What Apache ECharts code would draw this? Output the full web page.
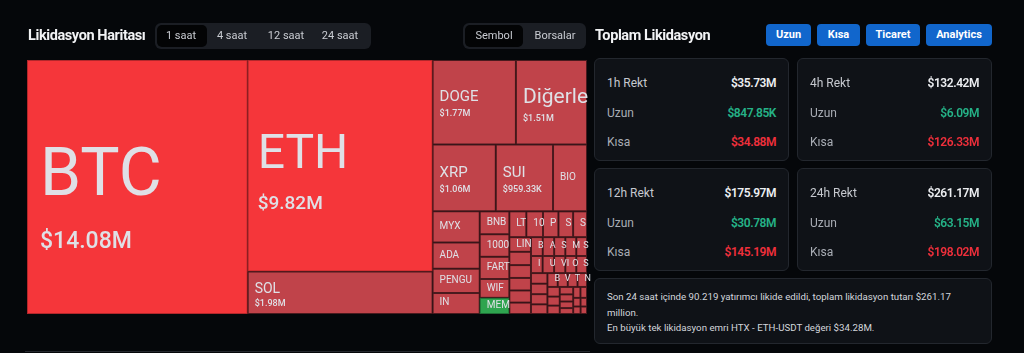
<!DOCTYPE html>
<html>
<head>
<meta charset="utf-8">
<script src="https://cdn.jsdelivr.net/npm/echarts@6/dist/echarts.min.js"></script>
<style>
  body { margin: 0; width: 1024px; height: 353px; overflow: hidden; background: #05070a; font-family: Roboto, "Noto Sans", sans-serif; color: #e6e8eb; position: relative; }
  .abs { position: absolute; }
  .title { font-size: 14.5px; font-weight: 700; color: #f2f3f5; letter-spacing: -0.4px; top: 27px; line-height: 18px; }
  .seg { top: 23px; height: 26px; background: #1b1e24; border-radius: 6px; }
  .seg .pill { position: absolute; top: 2px; height: 22px; background: #030405; border-radius: 5px; }
  .seg span { position: absolute; top: 0; line-height: 26px; font-size: 11px; color: #c9ccd2; transform: translateX(-50%); white-space: nowrap; }
  .btn { top: 24px; height: 22px; line-height: 22px; background: #1166cc; border-radius: 4px; color: #fff; font-size: 11px; font-weight: 700; text-align: center; }
  .card { background: #0f1217; border: 1px solid #23272e; border-radius: 6px; box-sizing: border-box; }
  .row { position: absolute; left: 12px; right: 12px; height: 16px; line-height: 16px; font-size: 12px; }
  .row .k { position: absolute; left: 0; color: #a9adb5; }
  .row .v { position: absolute; right: 0; font-weight: 600; font-size: 12px; letter-spacing: -0.45px; }
  .note { font-size: 9.7px; line-height: 15.5px; color: #d3d6dc; padding: 10px 40px 10px 12px; }
  #chart { position: absolute; left: 0; top: 0; width: 600px; height: 353px; }
</style>
</head>
<body>
<div id="chart"></div>

<div class="abs title" style="left:28px">Likidasyon Haritası</div>
<div class="abs seg" id="periodTabs" style="left:155px;width:216px"><div class="pill" style="left:2px;width:50px"></div></div>
<div class="abs seg" id="groupTabs" style="left:463px;width:123px"><div class="pill" style="left:2px;width:58px"></div></div>
<div class="abs title" style="left:595px">Toplam Likidasyon</div>
<div id="buttons"></div>
<div id="cards"></div>
<div class="abs card note" style="left:594px;top:278px;width:398px;height:66px">
  Son 24 saat içinde 90.219 yatırımcı likide edildi, toplam likidasyon tutarı $261.17 million.<br>
  En büyük tek likidasyon emri HTX - ETH-USDT değeri $34.28M.
</div>
<div class="abs" style="left:25px;top:351px;width:565px;height:1px;background:#24272d"></div>

<script>
// treemap verisi (milyon $)
const coins = ['BTC', 'ETH', 'SOL', 'DOGE', 'Diğerleri', 'XRP', 'SUI', 'BIO', 'MYX', 'ADA', 'PENGU', 'IN',
  'BNB', '1000FLOKI', 'FARTCOIN', 'WIF', 'MEME', 'LTC', '1000BONK', 'PUMP', 'SPK', 'SOON',
  'LINK', 'PROVE', 'ENA', 'STBL', 'AVAX', 'LDO', 'BCH', 'AAVE', 'SPX', 'MANA', 'SHIB', 'INJ',
  'USELESS', 'VIRTUAL', 'ORDI', 'SAND', 'APT', 'IP', 'ICP', 'ONDO', 'BOME', 'VINE', 'TAO', 'NEAR',
  'XAI', 'WAL', 'TRX', 'CRV', 'OP', 'ARB', 'WLD', 'FIL', 'TIA', 'HYPE', 'ZORA', 'ETC', 'XLM']
const liqM = [14.08, 9.82, 1.98, 1.77, 1.51, 1.06, 0.95933, 0.57, 0.37, 0.31, 0.285, 0.25,
  0.17, 0.168, 0.165, 0.14, 0.12, 0.11, 0.108, 0.1, 0.095, 0.09,
  0.08, 0.072, 0.07, 0.068, 0.066, 0.062, 0.056, 0.054, 0.053, 0.052, 0.051, 0.05,
  0.049, 0.048, 0.047, 0.046, 0.044, 0.043, 0.042, 0.04, 0.036, 0.035, 0.034, 0.033,
  0.03, 0.028, 0.026, 0.025, 0.024, 0.022, 0.02, 0.02, 0.018, 0.016, 0.014, 0.014, 0.012]
const hotCoins = ['BTC', 'ETH']
const greenCoins = ['MEME']

// sağ panel verisi
const periods = ['1h', '4h', '12h', '24h']
const totalRekt = [35.73, 132.42, 175.97, 261.17]
const longRekt = [0.84785, 6.09, 30.78, 63.15]
const shortRekt = [34.88, 126.33, 145.19, 198.02]
const periodTabs = ['1 saat', '4 saat', '12 saat', '24 saat']
const groupTabs = ['Sembol', 'Borsalar']
const buttons = ['Uzun', 'Kısa', 'Ticaret', 'Analytics']

function fmtUsd(m) {
  return m >= 1 ? '$' + m.toFixed(2) + 'M' : '$' + (m * 1000).toFixed(2) + 'K'
}

// etiket boyutları
const labelSizes = {
  BTC: { n: 66, v: 23, gap: 26, d: 12 },
  ETH: { n: 48, v: 19, gap: 21, d: 9 },
  'Diğerleri': { n: 21, v: 9, gap: 7, d: 6 },
  SOL: { n: 14, v: 9, gap: 3, d: 6 },
  DOGE: { n: 15, v: 9, gap: 6, d: 6 },
  XRP: { n: 15, v: 9, gap: 6, d: 6 },
  SUI: { n: 15, v: 9, gap: 6, d: 6 }
}
function sizeOf(name, v) {
  if (labelSizes[name]) return labelSizes[name]
  return { n: v < 0.06 ? 9 : 10, d: 6 }
}
const lineH = s => Math.round(s * 1.15)

const items = coins.map((name, i) => {
  const hot = hotCoins.includes(name), green = greenCoins.includes(name)
  const s = sizeOf(name, liqM[i])
  return {
    name,
    value: liqM[i],
    itemStyle: {
      color: hot ? '#f5363a' : green ? '#2ea44f' : '#c0434a',
      borderColor: hot ? '#b3272b' : green ? '#1f6e36' : '#4a1a1e'
    },
    label: {
      distance: s.d,
      padding: 0,
      rich: {
        n: { fontSize: s.n, lineHeight: lineH(s.n), color: '#dfe0e6', fontFamily: 'Roboto' },
        v: { fontSize: s.v || 9, lineHeight: lineH(s.v || 9), color: '#dfe0e6', fontFamily: 'Roboto', fontWeight: 500, padding: [s.gap || 0, 0, 0, 0] }
      }
    }
  }
})

const myChart = echarts.init(document.getElementById('chart'))
const option = {
  backgroundColor: 'transparent',
  animation: false,
  series: [{
    type: 'treemap',
    left: 27, top: 60, width: 560, height: 254,
    roam: false,
    nodeClick: false,
    breadcrumb: { show: false },
    squareRatio: 1.7,
    levels: [
      { itemStyle: { borderWidth: 0, gapWidth: 0, borderColor: '#05070a' } },
      { itemStyle: { borderWidth: 1 } }
    ],
    label: {
      show: true,
      position: 'insideLeft',
      overflow: 'truncate',
      ellipsis: '',
      formatter: p => {
        const s = sizeOf(p.name, p.value)
        return s.v ? `{n|${p.name}}\n{v|${fmtUsd(p.value)}}` : `{n|${p.name}}`
      }
    },
    data: items
  }]
}
myChart.setOption(option)

// etiketleri dikeyde ortala (hücre yüksekliği layouttan okunuyor)
try {
  const data = myChart.getModel().getSeriesByIndex(0).getData()
  const heights = {}
  data.each(idx => {
    const l = data.getItemLayout(idx)
    if (l) heights[data.getName(idx)] = l.height
  })
  items.forEach(it => {
    const s = sizeOf(it.name, it.value)
    const blockH = lineH(s.n) + (s.v ? lineH(s.v) + s.gap : 0)
    const shift = s.v ? Math.round(s.n * 0.25) : 0
    const h = heights[it.name]
    if (h) it.label.padding = [Math.max(0, Math.floor((h - 2 - blockH) / 2) + shift), 0, 0, 0]
  })
  myChart.setOption({ series: [{ data: items }] })
} catch (e) { console.log(e) }

// sekmeler
const tabCenters = [26, 77, 131, 185]
periodTabs.forEach((t, i) => {
  const el = document.createElement('span')
  el.textContent = t
  el.style.left = tabCenters[i] + 'px'
  document.getElementById('periodTabs').appendChild(el)
})
const groupCenters = [31, 92]
groupTabs.forEach((t, i) => {
  const el = document.createElement('span')
  el.textContent = t
  el.style.left = groupCenters[i] + 'px'
  document.getElementById('groupTabs').appendChild(el)
})

// butonlar
const btnLeft = [766, 817, 866, 926], btnWidth = [45, 43, 54, 66]
buttons.forEach((b, i) => {
  const el = document.createElement('div')
  el.className = 'abs btn'
  el.textContent = b
  el.style.left = btnLeft[i] + 'px'
  el.style.width = btnWidth[i] + 'px'
  document.body.appendChild(el)
})

// kartlar
const cardPos = [[594, 58], [797, 58], [594, 168], [797, 168]]
periods.forEach((p, i) => {
  const c = document.createElement('div')
  c.className = 'abs card'
  c.style.cssText = `left:${cardPos[i][0]}px;top:${cardPos[i][1]}px;width:195px;height:103px`
  c.innerHTML = `
    <div class="row" style="top:16px"><span class="k" style="color:#c6c9cf">${p} Rekt</span><span class="v" style="color:#eceef1">${fmtUsd(totalRekt[i])}</span></div>
    <div class="row" style="top:46px"><span class="k">Uzun</span><span class="v" style="color:#25b287">${fmtUsd(longRekt[i])}</span></div>
    <div class="row" style="top:75px"><span class="k">Kısa</span><span class="v" style="color:#ef2f3b">${fmtUsd(shortRekt[i])}</span></div>`
  document.getElementById('cards').appendChild(c)
})
</script>
</body>
</html>
